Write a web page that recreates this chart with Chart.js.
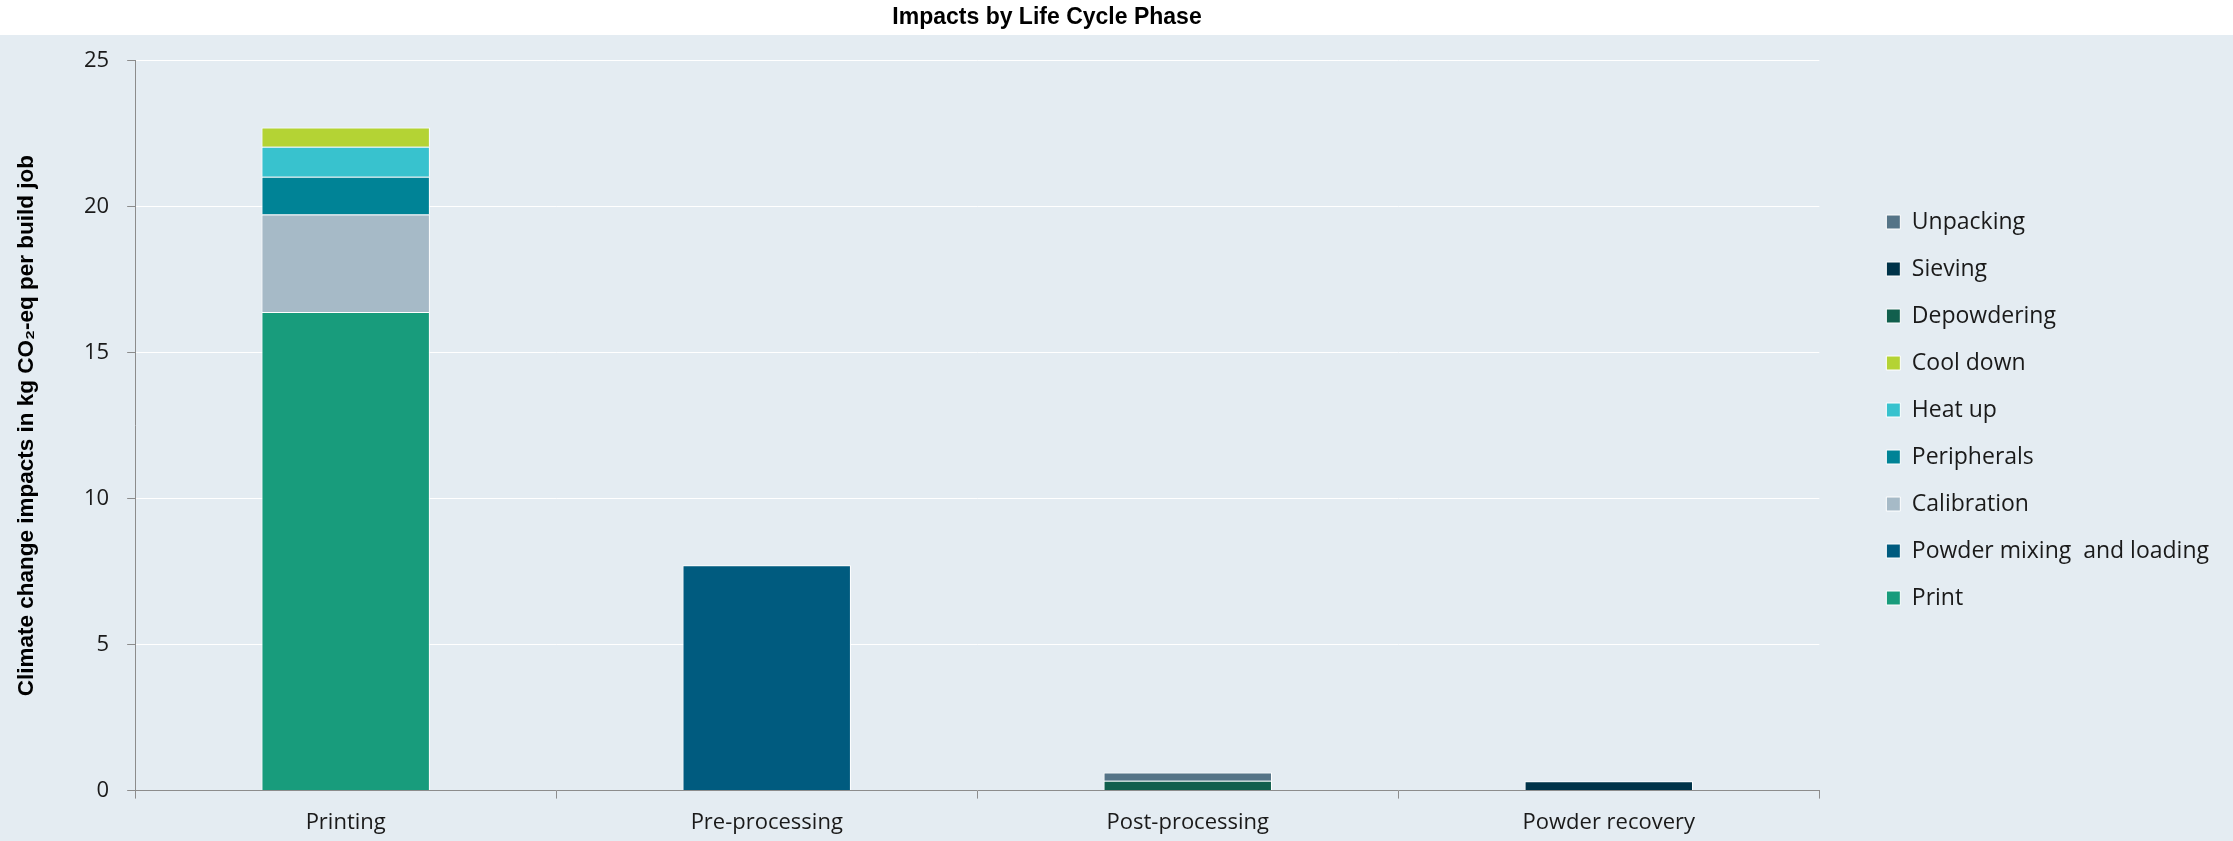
<!DOCTYPE html>
<html>
<head>
<meta charset="utf-8">
<script src="https://cdn.jsdelivr.net/npm/chart.js@4/dist/chart.umd.min.js"></script>
<style>
	body { margin: 0; background: #ffffff; }
	#Phase_Plot { display: block; }
</style>
</head>
<body>
<canvas id="Phase_Plot" width="2233" height="841"></canvas>
<script>

// Life cycle phases (x categories)
const phases = ['Printing', 'Pre-processing', 'Post-processing', 'Powder recovery'];

// kg CO2-eq per build job, one array per process step
const print_vals        = [16.39, null, null, null];
const powder_mix_vals   = [null, 7.72, null, null];
const calibration_vals  = [3.34, null, null, null];
const peripherals_vals  = [1.29, null, null, null];
const heat_up_vals      = [1.03, null, null, null];
const cool_down_vals    = [0.66, null, null, null];
const depowdering_vals  = [null, null, 0.34, null];
const sieving_vals      = [null, null, null, 0.32];
const unpacking_vals    = [null, null, 0.28, null];

const y_ticks = [0, 5, 10, 15, 20, 25];

const label_font = "'Open Sans', sans-serif";
const title_font = "'Liberation Sans Narrow', 'Liberation Sans', sans-serif";

function Step(label, values, color) {
	return {
		label: label,
		data: values,
		backgroundColor: color,
		borderColor: '#ffffff',
		borderWidth: 1,
		borderSkipped: 'start',
		barPercentage: 0.4,
		categoryPercentage: 1.0,
	};
}

// page background: white band behind the title, pale blue below
const backgroundPlugin = {
	id: 'background',
	beforeDraw(chart) {
		const ctx = chart.ctx;
		ctx.save();
		ctx.fillStyle = '#ffffff';
		ctx.fillRect(0, 0, chart.width, chart.height);
		ctx.fillStyle = '#e4ecf2';
		ctx.fillRect(0, 35, chart.width, chart.height - 35);
		ctx.restore();
	}
};

// pull the title centre left so it sits over the plot rather than the whole canvas
const titleShiftPlugin = {
	id: 'titleShift',
	afterLayout(chart) {
		chart.titleBlock.right -= 125;
	}
};

const phase_plot = document.getElementById("Phase_Plot").getContext("2d");

var Phase_Plot_Obj = new Chart(phase_plot, {
	type: "bar",
	data: {
		labels: phases,
		datasets: [
			Step('Print', print_vals, '#189c7c'),
			Step('Powder mixing  and loading', powder_mix_vals, '#005b7f'),
			Step('Calibration', calibration_vals, '#a6bac7'),
			Step('Peripherals', peripherals_vals, '#008396'),
			Step('Heat up', heat_up_vals, '#38c2ce'),
			Step('Cool down', cool_down_vals, '#b4d334'),
			Step('Depowdering', depowdering_vals, '#115f4d'),
			Step('Sieving', sieving_vals, '#003349'),
			Step('Unpacking', unpacking_vals, '#557487'),
		]
	},
	options: {
		responsive: false,
		animation: false,
		layout: {
			// negative top lifts the full-height legend a little; title padding makes up for it
			padding: { left: 0, right: 14, top: -27, bottom: -6 }
		},
		plugins: {
			title: {
				display: true,
				text: 'Impacts by Life Cycle Phase',
				color: '#000000',
				font: { family: title_font, size: 23, weight: 'bold' },
				padding: { top: 31, bottom: 29 },
			},
			legend: {
				display: true,
				position: 'right',
				reverse: true,
				labels: {
					boxWidth: 14,
					boxHeight: 14,
					padding: 24,
					color: '#1a1a1a',
					font: { family: label_font, size: 23 },
				},
			},
			tooltip: { enabled: false },
		},
		scales: {
			x: {
				stacked: true,
				grid: {
					drawOnChartArea: false,
					drawTicks: true,
					tickLength: 8,
					tickColor: '#8c8c8c',
					offset: true,
				},
				border: { color: '#8c8c8c', width: 1 },
				ticks: {
					color: '#1a1a1a',
					padding: 11,
					font: { family: label_font, size: 22 },
				},
			},
			y: {
				stacked: true,
				min: y_ticks[0],
				max: y_ticks[y_ticks.length - 1],
				title: {
					display: true,
					text: 'Climate change impacts in kg CO\u2082-eq per build job',
					color: '#000000',
					font: { family: title_font, size: 22.5, weight: 'bold' },
					padding: { top: 13, bottom: 26 },
				},
				grid: {
					color: '#ffffff',
					lineWidth: 1,
					tickLength: 8,
					tickColor: '#8c8c8c',
				},
				border: { color: '#8c8c8c', width: 1 },
				ticks: {
					stepSize: 5,
					padding: 18,
					color: '#1a1a1a',
					font: { family: label_font, size: 22 },
				},
			},
			// empty spacer between the plot and the legend
			yGap: {
				position: 'right',
				display: true,
				grid: { display: false },
				border: { display: false },
				ticks: { display: false },
				afterFit: function(scale) { scale.width = 43; },
			},
		},
		events: [],
	},
	plugins: [backgroundPlugin, titleShiftPlugin],
});

</script>
</body>
</html>
